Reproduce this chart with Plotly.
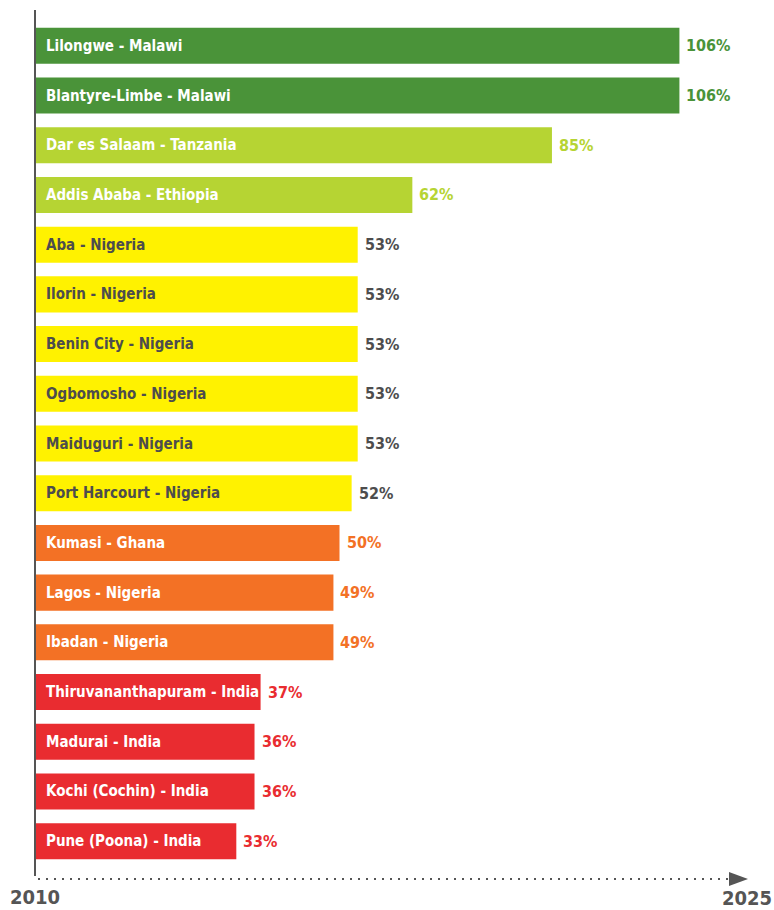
import plotly.graph_objects as go

cities = ["Lilongwe - Malawi", "Blantyre-Limbe - Malawi", "Dar es Salaam - Tanzania",
          "Addis Ababa - Ethiopia", "Aba - Nigeria", "Ilorin - Nigeria", "Benin City - Nigeria",
          "Ogbomosho - Nigeria", "Maiduguri - Nigeria", "Port Harcourt - Nigeria",
          "Kumasi - Ghana", "Lagos - Nigeria", "Ibadan - Nigeria",
          "Thiruvananthapuram - India", "Madurai - India", "Kochi (Cochin) - India",
          "Pune (Poona) - India"]
growth = [106, 106, 85, 62, 53, 53, 53, 53, 53, 52, 50, 49, 49, 37, 36, 36, 33]
tier = ["a", "a", "b", "b", "c", "c", "c", "c", "c", "c", "d", "d", "d", "e", "e", "e", "e"]
start_label, end_label = "2010", "2025"

BAR = {"a": "#4a9339", "b": "#b6d433", "c": "#fff200", "d": "#f37125", "e": "#e92c30"}
INNER = {"a": "#ffffff", "b": "#ffffff", "c": "#4d4d4d", "d": "#ffffff", "e": "#ffffff"}
OUTER = {"a": "#4a9339", "b": "#b6d433", "c": "#4d4d4d", "d": "#f37125", "e": "#e92c30"}
FONT = "DejaVu Sans Condensed, sans-serif"
GREY = "#555555"

W, H = 774, 910
L, T, PH = 36, 21, 845
PX_PER = 6.07
PW = W - L
xmax = PW / PX_PER

fig = go.Figure(go.Bar(
    y=cities, x=growth, orientation="h",
    marker=dict(color=[BAR[t] for t in tier], line=dict(width=0)),
    hoverinfo="x+y",
))

for c, v, t in zip(cities, growth, tier):
    fig.add_annotation(x=0, y=c, text=f"<b>{c}</b>", showarrow=False, xanchor="left",
                       xshift=8, font=dict(family=FONT, size=15, color=INNER[t]))
    fig.add_annotation(x=v, y=c, text=f"<b>{v}%</b>", showarrow=False, xanchor="left",
                       xshift=5, font=dict(family=FONT, size=16, color=OUTER[t]))


def px_x(p):
    return (p - L) / PW


def px_y(p):
    return (T + PH - p) / PH


# vertical axis line
fig.add_shape(type="line", xref="paper", yref="paper",
              x0=px_x(35), x1=px_x(35), y0=px_y(10), y1=px_y(876),
              line=dict(color=GREY, width=2))
# dotted timeline
fig.add_shape(type="line", xref="paper", yref="paper",
              x0=px_x(38), x1=px_x(728), y0=px_y(879), y1=px_y(879),
              line=dict(color=GREY, width=2, dash="2px,6px"))
# arrow head
fig.add_shape(type="path", xref="paper", yref="paper",
              path=f"M {px_x(729)} {px_y(872)} L {px_x(748)} {px_y(879)} L {px_x(729)} {px_y(886)} Z",
              fillcolor=GREY, line=dict(width=0))

fig.add_annotation(xref="paper", yref="paper", x=px_x(35), y=px_y(897), text=f"<b>{start_label}</b>",
                   showarrow=False, xanchor="center", yanchor="middle",
                   font=dict(family=FONT, size=20, color=GREY))
fig.add_annotation(xref="paper", yref="paper", x=px_x(747), y=px_y(898), text=f"<b>{end_label}</b>",
                   showarrow=False, xanchor="center", yanchor="middle",
                   font=dict(family=FONT, size=20, color=GREY))

fig.update_layout(
    width=W, height=H,
    margin=dict(l=L, r=0, t=T, b=H - T - PH, pad=0),
    paper_bgcolor="white", plot_bgcolor="white",
    bargap=0.275, showlegend=False,
    xaxis=dict(range=[0, xmax], visible=False, fixedrange=True),
    yaxis=dict(autorange="reversed", visible=False, fixedrange=True),
)

# drop the browser's default body margin so the figure fills the window exactly
fig.write_html("out.html", config={"displayModeBar": False},
               post_script="document.body.style.margin='0';document.body.style.overflow='hidden';")
